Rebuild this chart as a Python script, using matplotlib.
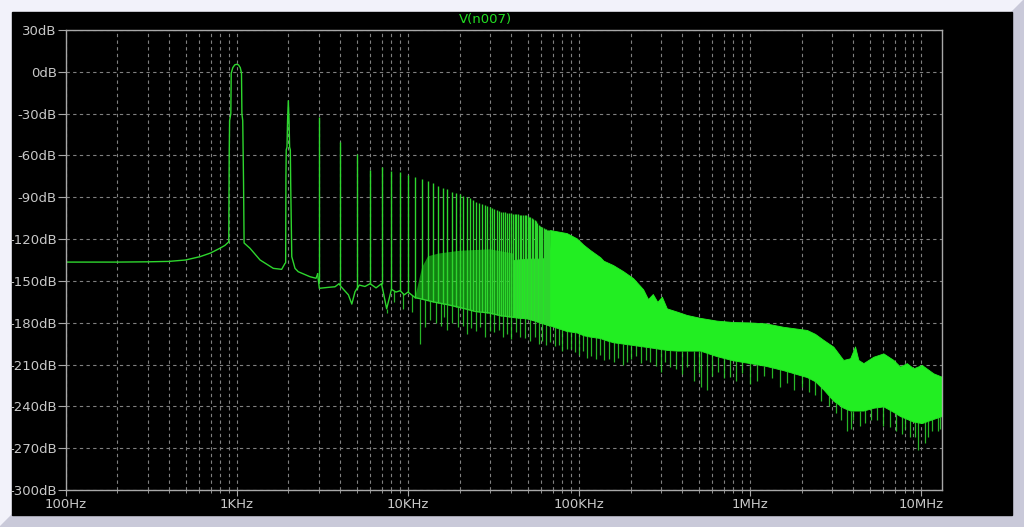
import numpy as np
import matplotlib
matplotlib.use('Agg')
import matplotlib.pyplot as plt
from matplotlib.patches import Polygon, Rectangle

# low frequency part of the trace (100 Hz .. 3 kHz), incl. the 1k and 2k peaks
lf_freq = [100, 200, 300, 400, 500, 608, 700, 794, 850, 889, 895, 900, 905, 920, 925,
           945, 970, 995, 1020, 1045, 1062, 1068, 1080, 1092, 1100, 1191, 1364, 1631,
           1824, 1909, 1925, 1932, 1940, 1960, 1975, 1995, 2015, 2030, 2050, 2060, 2090,
           2183, 2280, 2673, 2898, 2960]
lf_db = [-136.5, -136.5, -136.3, -136.0, -135.0, -132.6, -130.0, -126.6, -124.5, -122.3, -122.0,
         -60.0, -35.0, -30.0, -1.0, 3.0, 5.0, 5.4, 5.0, 3.0, -1.0, -30.0, -35.0, -80.0, -122.8,
         -126.6, -135.0, -141.0, -141.7, -137.4, -137.0, -75.0, -56.0, -54.0, -35.0, -20.7,
         -35.0, -54.0, -56.0, -80.0, -132.6, -141.0, -143.4, -147.0, -148.1, -145.0]

# harmonic peaks, n * 1 kHz, n = 3..67
harm_n = list(range(3, 68))
harm_db = [-32.7, -50.1, -59.0, -70.4, -68.0, -71.2, -71.6, -74.0, -75.2, -76.9,
           -78.3, -80.0, -81.7, -83.6, -84.3, -86.0, -86.7, -87.9, -88.8, -89.6,
           -90.8, -92.0, -93.2, -94.0, -94.7, -95.4, -96.1, -96.8, -97.5, -98.2,
           -98.9, -99.6, -100.3, -100.6, -100.8, -101.0, -101.3, -101.5, -101.8, -102.0,
           -102.0, -102.2, -102.4, -102.5, -102.6, -102.8, -103.0, -103.5, -104.0, -104.5,
           -105.0, -105.5, -106.2, -107.0, -108.5, -110.0, -110.5, -111.0, -111.5, -112.0,
           -112.5, -113.0, -113.2, -113.4, -113.5]

# valley floor between the harmonics
floor_freq = [2960, 3030, 3500, 3740, 3950, 4050, 4480, 4690, 4900, 5190, 5600, 6000, 6500,
              7000, 7500, 8000, 8500, 9000, 9500, 10000, 11000, 12000, 14000, 17000, 20000,
              25000, 30000, 35000, 41000]
floor_db = [-145.0, -155.3, -154.5, -154.2, -152.0, -154.0, -160.0, -166.6, -157.7, -153.0,
            -154.0, -152.0, -155.0, -152.0, -170.0, -156.0, -158.0, -157.0, -160.0, -158.0,
            -162.0, -163.0, -165.0, -167.0, -169.0, -172.0, -173.0, -175.0, -176.0]

# secondary products filling the gaps between harmonics
mid_freq = [11000, 12000, 13000, 15000, 20000, 30000, 41000]
mid_db = [-160.0, -140.0, -132.0, -130.0, -128.0, -127.0, -130.0]

# dense band above ~41 kHz (top and bottom edge)
band_freq = [41e3, 50e3, 60e3, 67e3, 67.6e3, 84.7e3, 97e3, 106e3, 116e3, 133e3, 139e3, 158e3,
             181e3, 207e3, 237e3, 253e3, 270e3, 287e3, 305e3, 326e3, 373e3, 426e3, 510e3,
             639e3, 796e3, 1e6, 1.24e6, 1.56e6, 2.15e6, 2.4e6, 2.69e6, 3.07e6, 3.51e6,
             3.85e6, 4.11e6, 4.3e6, 4.6e6, 5.26e6, 6.02e6, 6.89e6, 7.54e6, 8.25e6, 9.02e6,
             10.1e6, 11.8e6, 13.2e6]
band_top = [-135.0, -134.0, -134.0, -133.0, -113.5, -115.7, -119.5, -124.0, -127.8, -133.0,
            -135.5, -138.6, -143.0, -148.0, -156.0, -163.0, -159.4, -165.0, -161.3, -169.7,
            -172.0, -174.4, -176.5, -178.5, -179.5, -179.8, -180.5, -182.9, -185.2, -188.0,
            -192.4, -197.2, -206.7, -205.5, -197.0, -206.7, -209.0, -204.4, -202.0, -206.7,
            -211.5, -209.0, -212.7, -210.3, -216.3, -218.7]
band_bot = [-176.0, -177.0, -180.0, -182.0, -182.0, -186.0, -187.0, -189.0, -190.0, -191.0,
            -192.0, -194.0, -195.0, -196.0, -197.0, -197.5, -198.0, -198.5, -199.0, -199.5,
            -200.0, -200.0, -200.0, -204.0, -207.0, -209.0, -211.0, -214.0, -219.0, -222.0,
            -228.0, -236.0, -241.0, -243.0, -243.0, -243.0, -243.0, -241.0, -240.0, -244.0,
            -247.0, -249.0, -251.0, -252.0, -249.0, -247.0]

# downward spikes on the lower edge
dip_freq = [7.5e3, 8.3e3, 9.3e3, 10.5e3, 11.7e3, 12.5e3, 13.5e3, 14.5e3, 15.5e3, 16.2e3,
            17e3, 18e3, 19.5e3, 21e3, 22e3, 23.5e3, 25e3, 26.5e3, 28e3, 30e3, 32e3, 34e3,
            36e3, 38e3, 40e3, 43e3, 45e3, 48e3, 52e3, 55e3, 58e3, 61e3, 64e3, 68e3, 72e3,
            76e3, 80e3, 85e3, 90e3, 95e3, 100e3, 106e3, 112e3, 118e3, 125e3, 132e3, 140e3,
            150e3, 160e3, 170e3, 180e3, 190e3, 200e3, 215e3, 230e3, 245e3, 260e3, 280e3,
            300e3, 320e3, 340e3, 370e3, 400e3, 430e3, 470e3, 500e3, 520e3, 560e3, 600e3,
            650e3, 700e3, 760e3, 830e3, 900e3, 1.0e6, 1.1e6, 1.2e6, 1.35e6, 1.5e6, 1.65e6,
            1.8e6, 2.0e6, 2.2e6, 2.4e6, 2.6e6, 2.9e6, 3.2e6, 3.4e6, 3.7e6, 3.9e6, 4.0e6,
            4.4e6, 4.7e6, 5.1e6, 5.5e6, 6.0e6, 6.6e6, 7.1e6, 7.7e6, 8.1e6, 8.6e6, 9.2e6,
            9.6e6, 10.5e6, 11e6, 11.6e6, 12.5e6, 12.9e6]
dip_db = [-173, -165, -170, -172, -195, -183, -178, -180, -182, -176,
          -185, -180, -183, -182, -188, -184, -186, -183, -190, -186, -187, -185,
          -190, -188, -192, -187, -190, -191, -193, -190, -195, -193, -196, -194, -197,
          -196, -200, -199, -199, -201, -203, -200, -205, -204, -206, -203, -207,
          -206, -208, -205, -210, -208, -206, -204, -209, -207, -208, -211,
          -215, -208, -212, -213, -217, -212, -222, -216, -226, -228, -218,
          -215, -220, -219, -222, -216, -224, -222, -218, -220, -226, -223,
          -228, -226, -230, -232, -236, -240, -245, -250, -258, -256, -250,
          -254, -252, -250, -250, -254, -255, -258, -260, -256, -262, -262,
          -271, -266, -262, -258, -258, -256]

yticks = list(range(-300, 31, 30))
xticks = [1e2, 1e3, 1e4, 1e5, 1e6, 1e7]
xlabels = ['100Hz', '1KHz', '10KHz', '100KHz', '1MHz', '10MHz']

# ---- figure ----
W, H = 1024, 527
fig = plt.figure(figsize=(W / 100, H / 100), dpi=100)

def fx(x):
    return x / W

def fy(y):
    return 1 - y / H

# bevelled window frame
fig.add_artist(Polygon([(fx(0), fy(0)), (fx(W), fy(0)), (fx(W), fy(H)), (fx(0), fy(H))],
                       closed=True, transform=fig.transFigure, color='#f2f2fa', zorder=0))
fig.add_artist(Polygon([(fx(W), fy(0)), (fx(W), fy(H)), (fx(0), fy(H)), (fx(12), fy(515)),
                        (fx(1012), fy(515)), (fx(1012), fy(12))],
                       closed=True, transform=fig.transFigure, color='#c9c9d9', zorder=0))
fig.add_artist(Rectangle((fx(12), fy(515)), fx(1000), 503 / H, transform=fig.transFigure,
                         color='black', zorder=0))

ax = fig.add_axes([fx(66), fy(490), fx(941.7 - 66), (490 - 30) / H])
ax.set_facecolor('black')
ax.set_xscale('log')
ax.set_xlim(100, 13.2e6)
ax.set_ylim(-300, 30)

grey = '#a8a8a8'
for s in ax.spines.values():
    s.set_color(grey)
    s.set_linewidth(1.0)

ax.set_yticks(yticks)
ax.set_yticklabels(['%ddB' % v for v in yticks])
ax.set_xticks(xticks)
ax.set_xticklabels(xlabels)
ax.xaxis.set_minor_locator(matplotlib.ticker.LogLocator(base=10, subs=np.arange(2, 10)))
ax.xaxis.set_minor_formatter(matplotlib.ticker.NullFormatter())
ax.tick_params(axis='y', colors=grey, labelcolor='#c8c8c8', labelsize=9.5, length=6, pad=0.5, direction='out')
ax.tick_params(axis='x', which='major', colors=grey, labelcolor='#c8c8c8', labelsize=9.5, length=4, pad=2)
ax.tick_params(axis='x', which='minor', colors=grey, length=2)

ax.grid(True, which='both', axis='x', color='#808080', lw=0.8, dashes=(3, 3))
ax.grid(True, which='major', axis='y', color='#808080', lw=0.8, dashes=(3, 3))
ax.set_axisbelow(True)

green = '#22ee22'
line_green = '#2ed62e'
ax.plot(lf_freq, lf_db, color=line_green, lw=1.0)
ax.plot(floor_freq, floor_db, color=line_green, lw=1.0)

# filler between harmonics (drawn on the floor)
mid_floor = np.interp(np.log10(mid_freq), np.log10(floor_freq), floor_db)
ax.fill_between(mid_freq, mid_floor, mid_db, color=green, alpha=0.55, lw=0)

ax.fill_between(band_freq, band_bot, band_top, color=green, lw=0.6, edgecolor=green)

# harmonic lines stand on the floor / band bottom
edge_f = np.log10(floor_freq + band_freq[1:])
edge_db = floor_db + band_bot[1:]
harm_f = np.array(harm_n) * 1e3
base = np.interp(np.log10(harm_f), edge_f, edge_db)
ax.vlines(harm_f, base, harm_db, color=line_green, lw=1.0)

dip_base = np.interp(np.log10(dip_freq), edge_f, edge_db)
ax.vlines(dip_freq, dip_db, dip_base, color=line_green, lw=0.9, alpha=0.85)

fig.text(fx(485), fy(19), 'V(n007)', color='#22dd22', fontsize=9.5, ha='center', va='center')

fig.savefig('out.png', dpi=100, facecolor=fig.get_facecolor())
